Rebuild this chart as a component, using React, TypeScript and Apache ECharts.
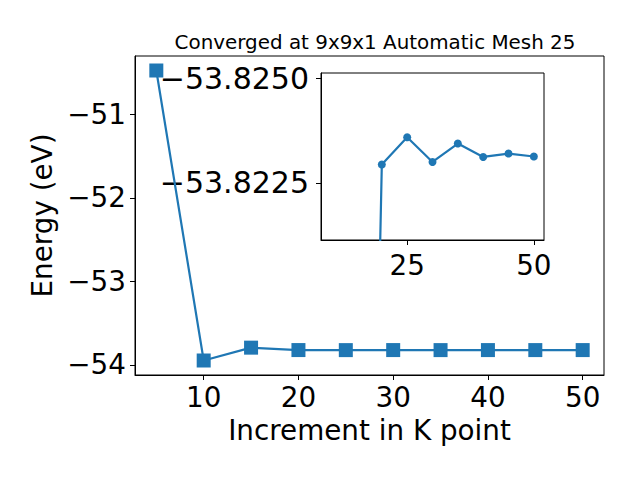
import React, { useEffect, useRef } from "react";
import * as echarts from "echarts";

const kPoints = [5, 10, 15, 20, 25, 30, 35, 40, 45, 50];
const energies = [-50.472, -53.948, -53.794, -53.82294, -53.82359, -53.823, -53.82344, -53.82312, -53.8232, -53.82313];
const mainXTicks = [10, 20, 30, 40, 50];
const mainYTicks = [-54, -53, -52, -51];
const insetXTicks = [25, 50];
const insetYTicks = [-53.825, -53.8225];
const insetXRange = [8, 52];
const insetYRange = [-53.82513, -53.82113];

const FONT = "DejaVu Sans";
const BLUE = "#1f77b4";
const minus = (s: string) => s.replace("-", "\u2212");

export default function App() {
  const ref = useRef<HTMLDivElement>(null);
  useEffect(() => {
    if (!ref.current) return;
    const chart = echarts.init(ref.current, null, { renderer: "svg" });
    const xmin = Math.min(...kPoints), xmax = Math.max(...kPoints);
    const ymin = Math.min(...energies), ymax = Math.max(...energies);
    const xm = (xmax - xmin) * 0.05, ym = (ymax - ymin) * 0.05;
    const mainData = kPoints.map((k, i) => [k, energies[i]]);
    const insetData = mainData.slice(2);
    const axisCommon = {
      axisLine: { show: true, onZero: false, lineStyle: { color: "#000", width: 1 } },
      splitLine: { show: false },
    };
    chart.setOption({
      animation: false,
      backgroundColor: "#fff",
      title: {
        text: "Converged at 9x9x1 Automatic Mesh 25",
        left: 370,
        top: 27,
        textAlign: "center",
        textStyle: { fontFamily: FONT, fontSize: 19.9, fontWeight: "normal", color: "#000" },
      },
      grid: [
        { left: 135, top: 56, width: 469, height: 319, show: true, borderColor: "#000", borderWidth: 1, backgroundColor: "#fff" },
        { left: 321, top: 73, width: 223, height: 167, show: true, borderColor: "#000", borderWidth: 1, backgroundColor: "#fff" },
      ],
      xAxis: [
        {
          type: "value", gridIndex: 0, min: xmin - xm, max: xmax + xm,
          ...axisCommon,
          axisTick: { show: true, length: 5, customValues: mainXTicks, lineStyle: { color: "#000" } },
          axisLabel: { customValues: mainXTicks, fontSize: 27.8, fontFamily: FONT, color: "#000", margin: 8 },
          name: "Increment in K point", nameLocation: "middle", nameGap: 41,
          nameTextStyle: { fontSize: 27.8, fontFamily: FONT, color: "#000" },
        },
        {
          type: "value", gridIndex: 1, min: insetXRange[0], max: insetXRange[1],
          ...axisCommon,
          axisTick: { show: true, length: 5, customValues: insetXTicks, lineStyle: { color: "#000" } },
          axisLabel: { customValues: insetXTicks, fontSize: 27.8, fontFamily: FONT, color: "#000", margin: 11 },
        },
      ],
      yAxis: [
        {
          type: "value", gridIndex: 0, min: ymin - ym, max: ymax + ym,
          ...axisCommon,
          axisTick: { show: true, length: 5, customValues: mainYTicks, lineStyle: { color: "#000" } },
          axisLabel: {
            customValues: mainYTicks, fontSize: 27.8, fontFamily: FONT, color: "#000", margin: 9,
            formatter: (v: number) => minus(String(v)),
          },
          name: "Energy (eV)", nameLocation: "middle", nameGap: 76,
          nameTextStyle: { fontSize: 27.8, fontFamily: FONT, color: "#000" },
        },
        {
          type: "value", gridIndex: 1, min: insetYRange[0], max: insetYRange[1], inverse: true,
          ...axisCommon,
          axisTick: { show: true, length: 5, customValues: insetYTicks, lineStyle: { color: "#000" } },
          axisLabel: {
            customValues: insetYTicks, fontSize: 30, fontFamily: FONT, color: "#000", margin: 12,
            formatter: (v: number) => minus(v.toFixed(4)),
          },
        },
      ],
      series: [
        {
          type: "line", xAxisIndex: 0, yAxisIndex: 0, data: mainData,
          symbol: "rect", symbolSize: 14, showAllSymbol: true,
          lineStyle: { color: BLUE, width: 2.2 }, itemStyle: { color: BLUE }, z: 3,
        },
        {
          type: "line", xAxisIndex: 1, yAxisIndex: 1, data: insetData, clip: true,
          symbol: "circle", symbolSize: 8, showAllSymbol: true,
          lineStyle: { color: BLUE, width: 2.2 }, itemStyle: { color: BLUE }, z: 4,
        },
      ],
    });
    return () => chart.dispose();
  }, []);
  return <div ref={ref} style={{ position: "absolute", left: 0, top: 0, width: 640, height: 480 }} />;
}
